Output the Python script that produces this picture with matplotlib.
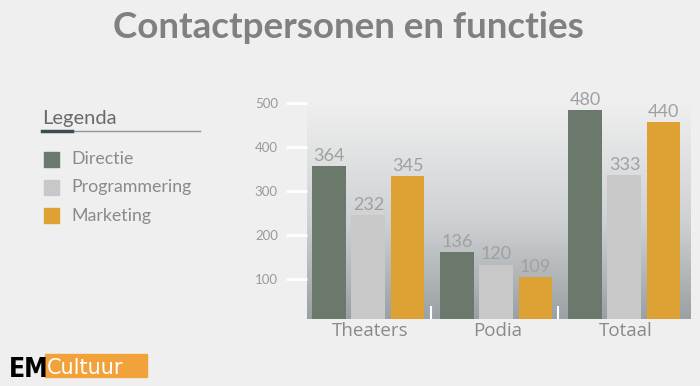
import matplotlib
matplotlib.use("Agg")
import matplotlib.pyplot as plt
import numpy as np
from matplotlib.colors import LinearSegmentedColormap
from matplotlib.patches import Rectangle
from matplotlib.lines import Line2D

categories = ["Theaters", "Podia", "Totaal"]
series_names = ["Directie", "Programmering", "Marketing"]
# bar heights as drawn in the picture
directie = [357, 160, 484]
programmering = [245, 132, 336]
marketing = [334, 103, 457]
# value labels printed above the bars
directie_labels = [364, 136, 480]
programmering_labels = [232, 120, 333]
marketing_labels = [345, 109, 440]
yticks = [100, 200, 300, 400, 500]

colors = ["#6b786c", "#c8c8c8", "#dea134"]
BG = "#efefef"

W, H = 700, 386
fig = plt.figure(figsize=(W / 100, H / 100), dpi=100)
fig.patch.set_facecolor(BG)

def fx(px):
    return px / W

def fy(py):
    return 1 - py / H

# axes
ax = fig.add_axes([fx(307), fy(319), (691 - 307) / W, (319 - 103) / H])
ax.set_xlim(-0.48, 2.52)
ax.set_ylim(8, 500)
ax.set_facecolor("none")
for s in ax.spines.values():
    s.set_visible(False)

# gradient background
cmap = LinearSegmentedColormap.from_list(
    "g", [(0, "#9aa0a3"), (0.45, "#ced1d3"), (1.0, "#efefef")])
grad = np.linspace(0, 1, 256).reshape(-1, 1)
ax.imshow(grad, extent=[-0.48, 2.52, 8, 500], aspect="auto", cmap=cmap,
          origin="lower", zorder=0)

x = np.arange(len(categories))
offsets = [-0.305, 0.0, 0.305]
width = 0.265
all_vals = [directie, programmering, marketing]
all_labels = [directie_labels, programmering_labels, marketing_labels]
for i, (vals, labs) in enumerate(zip(all_vals, all_labels)):
    xs = x + offsets[i]
    ax.bar(xs, vals, width=width, color=colors[i], zorder=2)
    for xx, v, lab in zip(xs, vals, labs):
        ax.text(xx, v + 5, str(lab), ha="center", va="bottom", fontsize=13,
                color="#a0a0a0", family="Lato", zorder=3)

# separators
ax.vlines([0.49, 1.48], 8, 38, color="white", lw=1.5, zorder=3)

ax.set_yticks(yticks)
ax.set_yticklabels([str(t) for t in yticks], fontsize=9.5, color="#9a9a9a",
                   family="Lato")
ax.tick_params(axis="y", length=15, width=2, color="white", pad=6)
ax.set_xticks(x + 0.01)
ax.set_xticklabels(categories, fontsize=13.5, color="#8a8a8a", family="Open Sans")
ax.tick_params(axis="x", length=0, pad=2)

# title
fig.text(fx(348), fy(38), "Contactpersonen en functies", ha="center",
         va="baseline", fontsize=26.5, fontweight="bold", color="#808080",
         family="Lato")

# legend
fig.text(fx(42), fy(124), "Legenda", ha="left", va="baseline", fontsize=14.5,
         color="#6a6a6a", family="Lato")
fig.add_artist(Line2D([fx(42), fx(200)], [fy(131), fy(131)], color="#8e9899",
                      lw=1.0))
fig.add_artist(Line2D([fx(42), fx(72)], [fy(131), fy(131)], color="#3b4d52",
                      lw=2.5))
leg_y = [159, 187, 216]
for name, c, yy in zip(series_names, colors, leg_y):
    fig.add_artist(Rectangle((fx(44), fy(yy + 7.5)), 15 / W, 15 / H,
                             color=c, transform=fig.transFigure))
    fig.text(fx(71), fy(yy), name, ha="left", va="center", fontsize=12.8,
             color="#8a8a8a", family="Lato")

# logo
fig.add_artist(Rectangle((fx(45), fy(377)), 102 / W, 23 / H,
                         color="#f2a23a", transform=fig.transFigure))
fig.text(fx(9), fy(377), "EM", ha="left", va="baseline", fontsize=19,
         fontweight="bold", color="black", family="DejaVu Sans",
         fontstretch="condensed")
fig.text(fx(47), fy(374), "Cultuur", ha="left", va="baseline", fontsize=15,
         color="white", family="DejaVu Sans")

fig.savefig("out.png", dpi=100, facecolor=BG)
